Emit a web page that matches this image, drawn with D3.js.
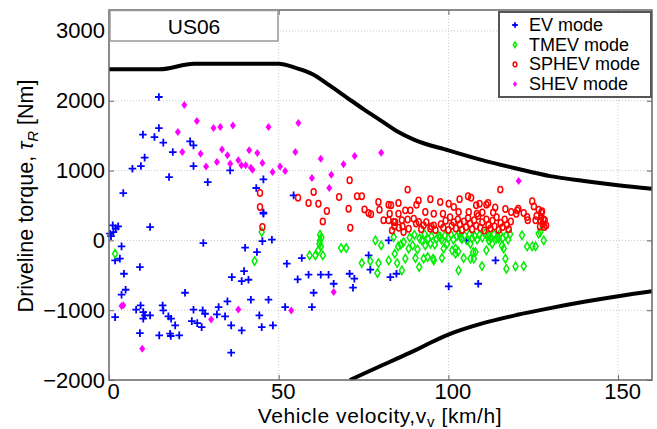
<!DOCTYPE html>
<html>
<head>
<meta charset="utf-8">
<script src="https://cdn.jsdelivr.net/npm/d3@7"></script>
<style>
  body { margin: 0; background: #fff; }
  text { font-family: "Liberation Sans", Arial, sans-serif; }
</style>
</head>
<body>
<div id="chart"></div>
<script>
// axis ticks
const xTicks = [0, 50, 100, 150];
const yTicks = [-2000, -1000, 0, 1000, 2000, 3000];

// boundary curves [velocity km/h, torque Nm]
const maxTorque = [[0,2450],[15,2450],[25,2530],[50,2530],[55,2470],[60,2380],[65,2220],[70,2050],[75,1880],[80,1720],[85,1560],[90,1440],[100,1290],[110,1150],[120,1030],[130,920],[140,850],[150,790],[160,740]];
const minTorque = [[71,-2000],[75,-1910],[80,-1800],[85,-1690],[90,-1580],[95,-1460],[100,-1350],[110,-1190],[120,-1070],[130,-970],[140,-880],[150,-800],[160,-730]];

// operating points per mode
const evPoints = [[14.7,2054],[4.2,678],[6.9,1027],[9.4,1065],[10.5,1185],[10.0,1515],[13.4,1480],[14.7,1609],[16.0,1400],[18.8,1265],[17.7,907],[23.9,1419],[24.9,1361],[24.9,1065],[29.1,835],[35.7,1003],[43.4,750],[45.5,874],[45.5,397],[54.4,645],
  [1.1,215],[2.7,201],[0.3,96],[1.3,119],[0.6,60],[2.0,170],[12.1,191],[3.7,-86],[1.8,-287],[3.2,-262],[4.4,-478],[4.9,-707],[3.7,-778],[1.8,-1099],[9.1,-382],[9.3,-932],[8.0,-993],[10.1,-1027],[10.6,-1075],[12.1,-1075],[10.1,-1122],[9.1,-1328],[15.8,-932],[16.0,-1003],[17.5,-1089],[18.3,-1122],[19.5,-1218],[14.8,-1361],[18.0,-1337],[18.2,-1370],[20.7,-1361],[22.4,-750],[24.9,-993],[24.4,-1156],[26.0,-1185],[27.3,-1242],[27.6,-1003],[28.3,-1051],[27.8,-38],[31.8,-1060],[32.3,-955],[34.2,-1089],[34.9,-874],[36.0,-1218],[36.0,-1609],[36.2,-526],[39.1,-583],[39.8,-440],[41.1,-564],[39.1,-1290],[40.1,-105],[41.8,-850],[43.6,-167],[44.3,-1075],[45.0,-1242],[45.2,-10],[47.0,-850],[48.0,10],[48.3,-1218],[45.5,383],
  [52.4,-334],[55.6,-559],[51.9,-955],[56.8,-253],[58.8,-492],[60.3,-750],[59.8,-955],[62.4,-492],[64.7,-492],[66.2,-621],[70.9,-478],[72.3,-549],[71.9,-678],[76.5,-215],[77.0,-420],[82.4,0],[82.9,-526],[84.7,-478],[100.1,-659],[108.8,-621],[113.9,-287],[105.3,0]];

const tmevPoints = [[1.8,-191],[45.0,119],[42.9,-296],
  [62.2,81],[62.2,0],[62.4,-86],[61.7,-143],[60.8,-215],[59.1,-215],[63.0,-215],[62.0,-48],[62.6,40],
  [68.4,-110],[69.9,-110],[74.5,-325],[78.5,0],[80.2,-72],[79.4,-325],[79.1,-468],[77.0,-296],[82.4,-287],[84.2,-191],[83.9,48],[85.2,-86],
  [84.9,-325],[86.0,-62],[87.3,-262],[88.3,-119],[89.5,-72],[90.3,-253],[90.9,-129],[91.4,-382],[92.7,-262],[93.9,-239],[94.7,-48],[95.5,-262],[96.0,-62],[98.1,-253],[98.6,-119],[99.6,-48],[101.1,-143],[102.1,-119],[102.9,-158],[103.0,-430],[104.5,-253],[106.5,-48],[107.3,-167],[109.9,-368],[111.2,-143],[111.9,0],[112.9,-48],[114.1,24],[115.8,-72],[116.3,-119],[116.8,-262],[117.1,-406],[119.8,-373],[122.2,-368],[121.7,72],[123.2,-86],[124.7,-86],[125.7,-86],[126.6,96],[128.1,0],[127.1,119],
  [86.8,-24],[86.3,-430],[92.2,0],[93.2,-72],[95.7,-287],[97.6,48],[102.1,-191],[106.5,-262],[108.0,-167],[103.5,48],[107.5,-262],[112.4,24],[114.8,24],
  [96.5,20],[97.2,60],[98.0,10],[99.0,70],[100.0,30],[100.8,80],[101.5,10],[102.5,60],[103.2,100],[104.0,20],[104.8,70],[105.5,0],[106.2,90],[107.0,30],[107.8,60],[108.5,10],[109.2,80],[110.0,40],[110.8,100],[111.6,60],[112.0,80],[113.4,90],[114.6,50],[115.2,100],[116.0,30],[117.0,70],[117.6,10],[118.2,90],[88.6,40],[90.0,80],[91.5,30],[93.0,90],[94.0,20],[95.0,60]];

const sphevPoints = [[44.5,678],[44.5,477],[45.2,191],
  [70.9,860],[60.3,693],[55.7,612],[58.8,535],[61.7,526],[64.2,420],[63.0,272],[67.8,621],[70.6,454],[71.1,182],[73.1,631],[74.5,631],[75.3,444],[76.5,392],[77.2,373],[79.4,549],[79.7,440],[82.4,511],[83.1,502],[85.3,535],[82.7,382],[80.9,287],[83.9,262],[84.1,201],[83.4,143],[85.4,180],
  [88.0,727],[91.2,573],[94.7,588],[97.6,549],[100.1,526],[103.3,588],[106.7,612],[109.2,526],[111.7,535],[115.3,727],[120.3,430],[124.7,559],[126.6,440],[127.6,416],
  [90.6,511],[88.8,430],[87.3,430],[85.3,382],[93.2,406],[95.7,382],[98.4,382],[101.6,477],[103.0,406],[106.0,406],[108.4,382],[82.4,287],[84.3,262],[86.3,287],[88.3,167],[89.8,311],[86.8,119],[91.3,262],[92.7,215],[94.7,167],[95.7,215],
  [105.8,631],[108.2,502],[111.2,512],[113.8,471],[116.8,450],[113.2,400],[125.2,487],[120.6,454],[118.5,406],[122.2,392],[123.2,334],[110.0,400],[120.0,380],[123.4,287],[125.7,287],[127.4,400],[128.4,287],[128.8,215],[126.0,350],
  [97.8,230],[98.5,180],[99.2,280],[100.0,150],[100.5,330],[101.0,210],[101.6,260],[102.2,170],[102.8,300],[103.4,230],[104.0,150],[104.6,270],[105.2,190],[105.8,320],[106.4,240],[107.0,160],[107.6,290],[108.2,210],[108.8,350],[109.4,180],[110.0,260],[110.6,140],[111.2,300],[111.8,220],[112.4,170],[113.0,280],[113.6,200],[114.2,330],[114.8,150],[115.4,250],[116.0,190],[116.6,300],[117.2,220],[117.8,160],[118.4,270],[92.0,160],[93.5,260],[95.0,200],[96.2,150],[90.5,240],[88.0,300],[86.5,200],[127.2,280],[127.8,230],[128.3,190],[127.4,340],[128.0,300],[127.0,200]];

const shevPoints = [[22.2,1939],[20.3,1552],[25.9,1710],[21.6,1265],[27.0,1242],[28.6,1060],[30.8,1609],[32.8,1624],[36.5,1644],[31.8,1122],[33.3,1300],[34.9,1218],[35.7,1099],[38.1,1146],[39.0,1075],[40.3,1075],[41.3,1290],[41.8,1042],[42.3,1013],[43.7,1251],[45.2,1108],[47.0,1624],[48.2,979],[50.4,1060],[51.9,993],[55.8,1681],[54.9,1265],[59.8,893],[62.4,1170],[65.5,941],[64.9,750],[69.1,1089],[72.4,1208],[80.2,1256],[120.7,850],
  [3.7,-941],[4.2,-930],[9.8,-1552],[30.1,-1132],[38.1,-989],[53.7,-1003],[66.2,-741]];

const modes = ["EV mode", "TMEV mode", "SPHEV mode", "SHEV mode"];

const width = 657, height = 429;
const svg = d3.select("#chart").append("svg")
  .attr("width", width)
  .attr("height", height);

const x = d3.scaleLinear().domain([0, 160]).range([109, 652]);
const y = d3.scaleLinear().domain([-2000, 3300]).range([380, 10]);

// grid
svg.append("g").selectAll("line").data(xTicks.slice(1)).join("line")
  .attr("x1", d => x(d)).attr("x2", d => x(d))
  .attr("y1", y.range()[1]).attr("y2", y.range()[0])
  .attr("stroke", "#c8c8c8").attr("stroke-dasharray", "1,2");
svg.append("g").selectAll("line").data(yTicks.slice(1)).join("line")
  .attr("x1", x.range()[0]).attr("x2", x.range()[1])
  .attr("y1", d => y(d)).attr("y2", d => y(d))
  .attr("stroke", "#c8c8c8").attr("stroke-dasharray", "1,2");

// boundary curves
const line = d3.line().x(d => x(d[0])).y(d => y(d[1])).curve(d3.curveMonotoneX);
svg.append("defs").append("clipPath").attr("id", "clip")
  .append("rect").attr("x", 109).attr("y", 10).attr("width", 543).attr("height", 370);
[maxTorque, minTorque].forEach(c => {
  svg.append("path").datum(c)
    .attr("d", line)
    .attr("fill", "none")
    .attr("stroke", "#000")
    .attr("stroke-width", 4)
    .attr("clip-path", "url(#clip)");
});

// marker shapes
function drawPlus(g, s) {
  g.append("path").attr("d", `M${-s},0H${s}M0,${-s}V${s}`)
    .attr("stroke", "#0000ff").attr("stroke-width", 1.8).attr("fill", "none");
}
function drawOpenDiamond(g, s) {
  g.append("path").attr("d", `M0,${-s}L${s * 0.6},0L0,${s}L${-s * 0.6},0Z`)
    .attr("stroke", "#00ee00").attr("stroke-width", 1.5).attr("fill", "none");
}
function drawCircle(g, s) {
  g.append("ellipse").attr("rx", s * 0.65).attr("ry", s * 0.85)
    .attr("stroke", "#ff0000").attr("stroke-width", 1.5).attr("fill", "none");
}
function drawFilledDiamond(g, s) {
  g.append("path").attr("d", `M0,${-s}L${s * 0.75},0L0,${s}L${-s * 0.75},0Z`)
    .attr("fill", "#ff00ff");
}
const markers = [drawPlus, drawOpenDiamond, drawCircle, drawFilledDiamond];
const sizes = [3.8, 4.2, 3.8, 4];
const series = [evPoints, tmevPoints, sphevPoints, shevPoints];

series.forEach((pts, i) => {
  svg.append("g").selectAll("g").data(pts).join("g")
    .attr("transform", d => `translate(${x(d[0])},${y(d[1])})`)
    .each(function () { markers[i](d3.select(this), sizes[i]); });
});

// frame and ticks
svg.append("rect")
  .attr("x", 109).attr("y", 10).attr("width", 543).attr("height", 370)
  .attr("fill", "none").attr("stroke", "#666").attr("stroke-width", 1.5);

const xAxis = svg.append("g").attr("transform", `translate(0,380)`)
  .call(d3.axisBottom(x).tickValues(xTicks).tickSizeInner(-5).tickSizeOuter(0).tickPadding(3));
const yAxis = svg.append("g").attr("transform", `translate(109,0)`)
  .call(d3.axisLeft(y).tickValues(yTicks).tickFormat(d3.format("d")).tickSizeInner(-5).tickSizeOuter(0).tickPadding(4));
svg.append("g").attr("transform", `translate(652,0)`)
  .call(d3.axisRight(y).tickValues(yTicks).tickSizeInner(-5).tickSizeOuter(0).tickFormat(""));
svg.append("g").attr("transform", `translate(0,10)`)
  .call(d3.axisTop(x).tickValues(xTicks).tickSizeInner(-5).tickSizeOuter(0).tickFormat(""));
svg.selectAll(".domain").remove();
svg.selectAll(".tick line").attr("stroke", "#666");
xAxis.selectAll("text").attr("font-size", 22).attr("fill", "#000").attr("dx", 4)
  .style("font-family", '"Liberation Sans", Arial, sans-serif');
yAxis.selectAll("text").attr("font-size", 22).attr("fill", "#000")
  .style("font-family", '"Liberation Sans", Arial, sans-serif');

// US06 label box
svg.append("rect").attr("x", 110).attr("y", 10.5).attr("width", 168).attr("height", 30.5)
  .attr("fill", "#fff").attr("stroke", "#999").attr("stroke-width", 1.5);
svg.append("text").attr("x", 194).attr("y", 33.5).attr("text-anchor", "middle")
  .attr("font-size", 21).text("US06");

// legend
const legend = svg.append("g");
legend.append("rect").attr("x", 499).attr("y", 12).attr("width", 152).attr("height", 85)
  .attr("fill", "#fff").attr("stroke", "#555").attr("stroke-width", 2);
modes.forEach((m, i) => {
  const ly = 25 + i * 19.7;
  const g = legend.append("g").attr("transform", `translate(515,${ly})`);
  markers[i](g, 2.8);
  legend.append("text").attr("x", 529).attr("y", ly + 6).attr("font-size", 18).text(m);
});

// axis titles
const xt = svg.append("text").attr("x", 380).attr("y", 423).attr("text-anchor", "middle")
  .attr("font-size", 21).attr("letter-spacing", 0.6);
xt.append("tspan").text("Vehicle velocity,v");
xt.append("tspan").attr("font-size", 15).attr("dy", 4).text("v");
xt.append("tspan").attr("dy", -4).text("  [km/h]");

const yt = svg.append("text").attr("transform", "translate(33,196) rotate(-90)")
  .attr("text-anchor", "middle").attr("font-size", 21.5);
yt.append("tspan").text("Driveline torque, ");
yt.append("tspan").attr("font-style", "italic").text("τ");
yt.append("tspan").attr("font-style", "italic").attr("font-size", 15).attr("dy", 5).text("R");
yt.append("tspan").attr("dy", -5).text(" [Nm]");
</script>
</body>
</html>
